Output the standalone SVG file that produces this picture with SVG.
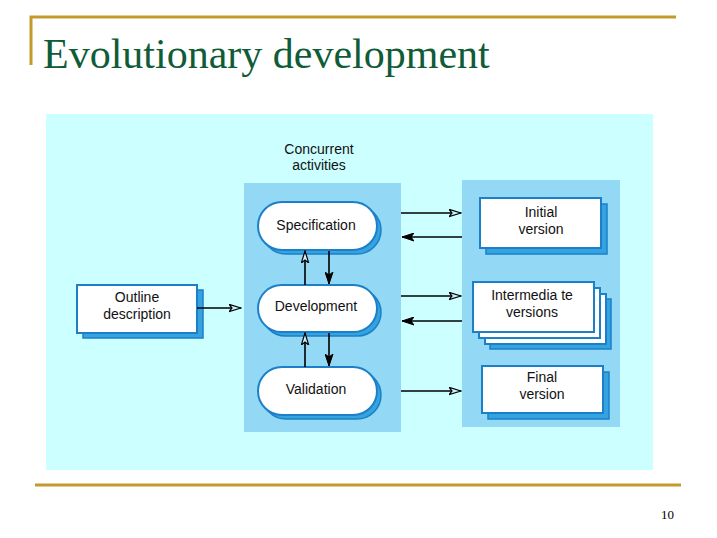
<svg xmlns="http://www.w3.org/2000/svg" width="717" height="538" viewBox="0 0 717 538">
<style>
.lbl{font-family:"Liberation Sans",Arial,sans-serif;font-size:14px;fill:#111;text-anchor:middle}
.box{fill:#fff;stroke:#1b80c8;stroke-width:2}
.shd{fill:#34a3e0;stroke:#1b80c8;stroke-width:1.5}
.pill{fill:#fff;stroke:#1b80c8;stroke-width:2}
.ln{stroke:#000;stroke-width:1.6;fill:none}
.gold{stroke:#c49a2c;stroke-width:3;fill:none}
</style>
<defs>
<marker id="open" markerWidth="13" markerHeight="9" refX="12" refY="4.5" orient="auto" markerUnits="userSpaceOnUse">
<path d="M0,0.8 L12,4.5 L0,8.2 L3,4.5 Z" fill="#cfeef8" stroke="#000" stroke-width="1.2"/>
</marker>
<marker id="solid" markerWidth="13" markerHeight="9" refX="12" refY="4.5" orient="auto" markerUnits="userSpaceOnUse">
<path d="M0,0.5 L12,4.5 L0,8.5 L3,4.5 Z" fill="#000" stroke="#000" stroke-width="1"/>
</marker>
</defs>
<rect width="717" height="538" fill="#fff"/>
<path class="gold" d="M31,65 V17 H676"/>
<path class="gold" d="M35,485 H681"/>
<text x="43" y="68" font-family="'Liberation Serif','Times New Roman',serif" font-size="42" fill="#0f5c37">Evolutionary development</text>
<text x="674" y="519" font-family="'Liberation Serif','Times New Roman',serif" font-size="13" fill="#000" text-anchor="end">10</text>
<rect x="46" y="114" width="607" height="356" fill="#ccffff"/>
<rect x="244" y="183" width="157" height="249" fill="#93d8f4"/>
<rect x="462" y="180" width="158" height="247" fill="#93d8f4"/>
<text class="lbl" x="319" y="154">Concurrent</text>
<text class="lbl" x="319" y="170">activities</text>
<g id="outline">
<rect class="shd" x="83" y="290" width="120" height="48"/>
<rect class="box" x="77" y="285" width="120" height="48"/>
<text class="lbl" x="137" y="302">Outline</text>
<text class="lbl" x="137" y="319">description</text>
</g>
<g id="specification">
<rect class="shd" x="262" y="206" width="119" height="48" rx="24"/>
<rect class="pill" x="258" y="202" width="119" height="48" rx="24"/>
<text class="lbl" x="316" y="230">Specification</text>
</g>
<g id="development">
<rect class="shd" x="262" y="289" width="119" height="47" rx="23.5"/>
<rect class="pill" x="258" y="285" width="119" height="47" rx="23.5"/>
<text class="lbl" x="316" y="311">Development</text>
</g>
<g id="validation">
<rect class="shd" x="262" y="371" width="119" height="48" rx="24"/>
<rect class="pill" x="258" y="367" width="119" height="48" rx="24"/>
<text class="lbl" x="316" y="394">Validation</text>
</g>
<g id="initial">
<rect class="shd" x="486" y="204" width="121" height="50"/>
<rect class="box" x="480" y="198" width="121" height="50"/>
<text class="lbl" x="541" y="217">Initial</text>
<text class="lbl" x="541" y="234">version</text>
</g>
<g id="intermediate">
<rect class="shd" x="490" y="299" width="121" height="50"/>
<rect class="box" x="485" y="294" width="121" height="50"/>
<rect class="box" x="479" y="288" width="121" height="50"/>
<rect class="box" x="473" y="282" width="121" height="50"/>
<text class="lbl" x="532" y="300">Intermedia te</text>
<text class="lbl" x="532" y="317">versions</text>
</g>
<g id="final">
<rect class="shd" x="488" y="372" width="121" height="47"/>
<rect class="box" x="482" y="366" width="121" height="47"/>
<text class="lbl" x="542" y="382">Final</text>
<text class="lbl" x="542" y="399">version</text>
</g>
<g id="connectors">
<line class="ln" x1="197" y1="308" x2="241" y2="308" marker-end="url(#open)"/>
<line class="ln" x1="305" y1="285" x2="305" y2="251" marker-end="url(#open)"/>
<line class="ln" x1="329" y1="251" x2="329" y2="284" marker-end="url(#solid)"/>
<line class="ln" x1="305" y1="367" x2="305" y2="333" marker-end="url(#open)"/>
<line class="ln" x1="329" y1="333" x2="329" y2="366" marker-end="url(#solid)"/>
<line class="ln" x1="401" y1="213" x2="461" y2="213" marker-end="url(#open)"/>
<line class="ln" x1="462" y1="237" x2="402" y2="237" marker-end="url(#solid)"/>
<line class="ln" x1="401" y1="296" x2="461" y2="296" marker-end="url(#open)"/>
<line class="ln" x1="462" y1="321" x2="402" y2="321" marker-end="url(#solid)"/>
<line class="ln" x1="401" y1="391" x2="461" y2="391" marker-end="url(#open)"/>
</g>
</svg>
